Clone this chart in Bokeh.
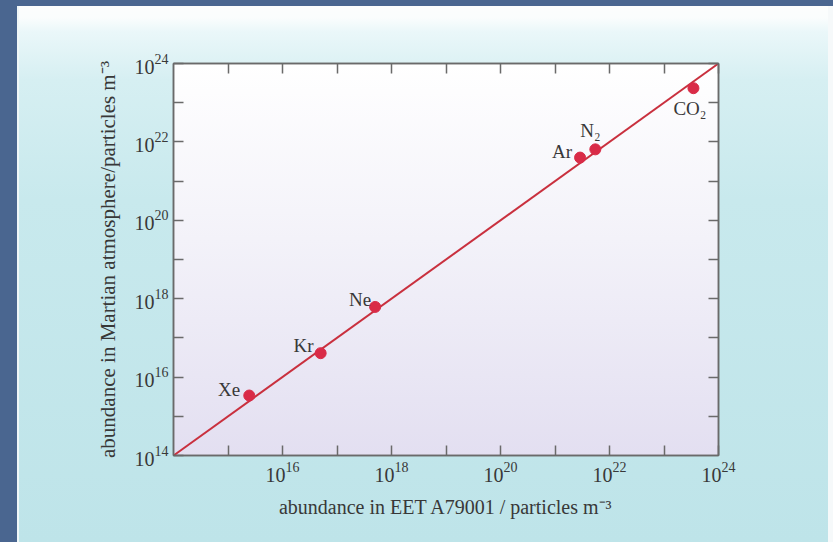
from bokeh.plotting import figure
from bokeh.models import (LogAxis, FixedTicker, Label, ColumnDataSource,
                          LogTickFormatter)
from bokeh.embed import file_html
from bokeh.resources import INLINE

# ---- data ----
gases = ["Xe", "Kr", "Ne", "Ar", "N₂", "CO₂"]
eet_abundance = [10**15.39, 10**16.70, 10**17.70, 10**21.46, 10**21.74, 10**23.54]
mars_abundance = [10**15.53, 10**16.61, 10**17.79, 10**21.60, 10**21.81, 10**23.37]
line_x = [1e14, 1e24]
line_y = [1e14, 1e24]
x_major_exponents = [16, 18, 20, 22, 24]
y_major_exponents = [14, 16, 18, 20, 22, 24]
minor_exponents = [15, 17, 19, 21, 23]

FONT = "Liberation Serif"
TXT = "#383838"
AX = "#6a6a6a"
FS = "19px"
TICK_FS = "20px"

W, H = 833, 542
LEFT, RIGHT, TOP, BOTTOM = 173, 115, 63, 87
FW, FH = W - LEFT - RIGHT, H - TOP - BOTTOM

bg = ", ".join([
    "linear-gradient(#4a6690,#4a6690) 0 0 / 17px 100% no-repeat",
    "linear-gradient(#4a6690,#4a6690) 0 0 / 100% 6px no-repeat",
    "linear-gradient(#f6f9fa,#f6f9fa) right 0 top 0 / 5px 100% no-repeat",
    "linear-gradient(#f0f7f8,#f0f7f8) 17px 0 / 2px 100% no-repeat",
    f"linear-gradient(to bottom, #ffffff, #f3f2f9 45%, #e3dff1) {LEFT}px {TOP}px / {FW}px {FH}px no-repeat",
    "linear-gradient(to bottom, #4a6690 0px, #4a6690 6px, #fcfdfd 6px, #fafdfd 18px, "
    "#eaf7f9 32px, #d6eff2 80px, #c8e9ed 200px, #bee4e9 100%)",
])

p = figure(width=W, height=H, x_axis_type="log", y_axis_type="log",
           x_range=(1e14, 1e24), y_range=(1e14, 1e24),
           output_backend="svg", toolbar_location=None,
           min_border_left=LEFT, min_border_right=RIGHT,
           min_border_top=TOP, min_border_bottom=BOTTOM,
           border_fill_alpha=0, background_fill_alpha=0,
           outline_line_color=AX, outline_line_width=1.5)
p.styles = {"background": bg}
p.grid.visible = False

minor = [float(10**k) for k in minor_exponents]


def style_axis(ax, exps, labels=True, title_fs=FS):
    major = [float(10**k) for k in exps]
    ax.ticker = FixedTicker(ticks=major, minor_ticks=minor)
    ax.formatter = LogTickFormatter()
    ax.axis_line_color = AX
    ax.axis_line_width = 1.5
    for kind in ("major", "minor"):
        setattr(ax, f"{kind}_tick_line_color", AX)
        setattr(ax, f"{kind}_tick_line_width", 1.5)
        setattr(ax, f"{kind}_tick_in", 10)
        setattr(ax, f"{kind}_tick_out", 0)
    ax.major_label_text_font = FONT
    ax.major_label_text_color = TXT if labels else None
    ax.major_label_text_font_size = TICK_FS
    ax.axis_label_text_font = FONT
    ax.axis_label_text_font_style = "normal"
    ax.axis_label_text_color = TXT
    ax.axis_label_text_font_size = title_fs


xa = p.xaxis[0]
ya = p.yaxis[0]
style_axis(xa, x_major_exponents, title_fs="20px")
style_axis(ya, y_major_exponents, title_fs="21px")
xa.major_label_standoff = 6
ya.major_label_standoff = 5
xa.axis_label = "abundance in EET A79001 / particles m⁻³"
ya.axis_label = "abundance in Martian atmosphere/particles m⁻³"
xa.axis_label_standoff = 11
ya.axis_label_standoff = 12

top_ax = LogAxis()
right_ax = LogAxis()
style_axis(top_ax, x_major_exponents, labels=False)
style_axis(right_ax, x_major_exponents, labels=False)
p.add_layout(top_ax, "above")
p.add_layout(right_ax, "right")

p.line(line_x, line_y, line_color="#c9303e", line_width=2)
src = ColumnDataSource(dict(x=eet_abundance, y=mars_abundance, name=gases))
p.scatter("x", "y", source=src, size=11, fill_color="#d92b47",
          line_color="#d92b47")

offsets = {"Xe": (-9, 6, "right"), "Kr": (-7, 8, "right"), "Ne": (-4, 7, "right"),
           "Ar": (-8, 6, "right"), "N₂": (-15, 19, "left"), "CO₂": (-20, -20, "left")}
for g, xv, yv in zip(gases, eet_abundance, mars_abundance):
    dx, dy, al = offsets[g]
    p.add_layout(Label(x=xv, y=yv, x_offset=dx, y_offset=dy, text=g,
                       text_align=al, text_baseline="middle", text_font=FONT,
                       text_font_size=FS, text_color=TXT))

open("out.html", "w").write(file_html(p, INLINE))
